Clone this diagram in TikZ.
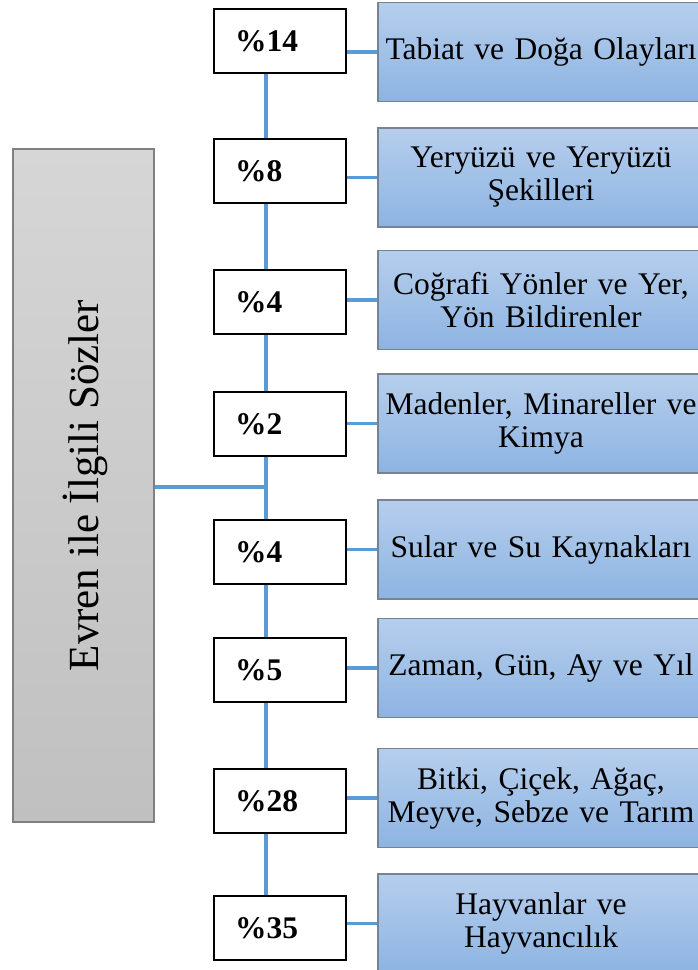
\documentclass[tikz,border=0pt]{standalone}
\usepackage{fontspec}
\setmainfont{Liberation Serif}
\definecolor{btop}{RGB}{182,206,236}
\definecolor{bbot}{RGB}{141,180,226}
\definecolor{boxborder}{RGB}{120,130,145}
\definecolor{ltop}{RGB}{214,214,214}
\definecolor{lbot}{RGB}{192,192,192}
\definecolor{lborder}{RGB}{128,128,128}
\definecolor{linkblue}{RGB}{91,155,213}
\begin{document}
\begin{tikzpicture}[x=1pt,y=-1pt,
  pbox/.style={draw=black, line width=1.2pt, fill=white, minimum height=64pt,
    text width=90pt, inner xsep=21pt, inner ysep=0pt, align=left,
    font=\fontsize{31.5}{31}\selectfont\bfseries},
  cbox/.style={draw=boxborder, line width=1.2pt, top color=btop, bottom color=bbot,
    minimum height=99pt, text width=316pt, inner xsep=5pt, inner ysep=0pt, align=center,
    font=\fontsize{31.5}{33}\selectfont},
  lbox/.style={draw=lborder, line width=1.2pt, top color=ltop, bottom color=lbot,
    minimum width=141pt, minimum height=673pt, inner sep=0pt},
  link/.style={draw=linkblue, line width=3.2pt}]
\useasboundingbox (0,0) rectangle (697,970);

\node[lbox] (ev) at (83.5,485.5) {};
\node[rotate=90, font=\fontsize{43}{43}\selectfont] (evt) at ([xshift=2pt]ev.center) {Evren ile İlgili Sözler};

\node[pbox] (p1) at (280,41) {\%14};
\node[pbox] (p2) at (280,171) {\%8};
\node[pbox] (p3) at (280,302) {\%4};
\node[pbox] (p4) at (280,424) {\%2};
\node[pbox] (p5) at (280,552) {\%4};
\node[pbox] (p6) at (280,670) {\%5};
\node[pbox] (p7) at (280,801) {\%28};
\node[pbox] (p8) at (280,928) {\%35};

\node[cbox] (r1) at (541,52) {Tabiat ve Doğa Olayları};
\node[cbox] (r2) at (541,177.5) {Yeryüzü ve Yeryüzü\\Şekilleri};
\node[cbox] (r3) at (541,300) {Coğrafi Yönler ve Yer,\\Yön Bildirenler};
\node[cbox] (r4) at (541,423.5) {Madenler, Minareller ve\\Kimya};
\node[cbox] (r5) at (541,549.5) {Sular ve Su Kaynakları};
\node[cbox] (r6) at (541,668) {Zaman, Gün, Ay ve Yıl};
\node[cbox] (r7) at (541,798) {Bitki, Çiçek, Ağaç,\\Meyve, Sebze ve Tarım};
\node[cbox] (r8) at (541,923.5) {Hayvanlar ve\\Hayvancılık};

\coordinate (spine) at (266,0);
\coordinate (hub) at (266,487);
\foreach \a/\b in {p1/p2,p2/p3,p3/p4,p4/p5,p5/p6,p6/p7,p7/p8}
  \draw[link] (\a.south -| spine) -- (\b.north -| spine);
\draw[link] (ev.east |- hub) -- ([xshift=1.6pt]hub);
\foreach \i in {1,...,8}
  \draw[link] (r\i.west -| p\i.east) -- (r\i.west);
\end{tikzpicture}
\end{document}
